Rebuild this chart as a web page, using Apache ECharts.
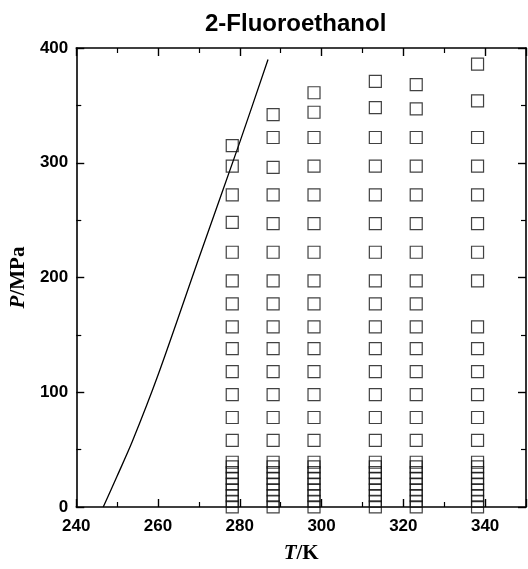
<!DOCTYPE html>
<html>
<head>
<meta charset="utf-8">
<script src="https://cdn.jsdelivr.net/npm/echarts@6/dist/echarts.min.js"></script>
<style>html,body{margin:0;padding:0;background:#fff;}#c{width:528px;height:569px;}</style>
</head>
<body>
<div id="c"></div>
<script>
// Temperatures (K) of the measured isotherms
var temps = [278.15, 288.15, 298.15, 313.15, 323.15, 338.15];
// Pressures (MPa) measured on each isotherm
var p278 = [0.1, 5, 10, 15, 20, 25, 30, 35, 39, 58, 78, 98, 118, 138, 157, 177, 197, 222, 248, 272, 297, 315];
var p288 = [0.1, 5, 10, 15, 20, 25, 30, 35, 39, 58, 78, 98, 118, 138, 157, 177, 197, 222, 247, 272, 296, 322, 342];
var p298 = [0.1, 5, 10, 15, 20, 25, 30, 35, 39, 58, 78, 98, 118, 138, 157, 177, 197, 222, 247, 272, 297, 322, 344, 361];
var p313 = [0.1, 5, 10, 15, 20, 25, 30, 35, 39, 58, 78, 98, 118, 138, 157, 177, 197, 222, 247, 272, 297, 322, 348, 371];
var p323 = [0.1, 5, 10, 15, 20, 25, 30, 35, 39, 58, 78, 98, 118, 138, 157, 177, 197, 222, 247, 272, 297, 322, 347, 368];
var p338 = [0.1, 5, 10, 15, 20, 25, 30, 35, 39, 58, 78, 98, 118, 138, 157, 197, 222, 247, 272, 297, 322, 354, 386];
var isotherms = [p278, p288, p298, p313, p323, p338];
// Melting (solid-liquid) curve
var meltT = [246.6, 250.0, 253.7, 260.0, 270.0, 280.0, 286.9];
var meltP = [0, 27, 57, 115, 217, 318, 390];
// Axis ticks
var xTicks = [240, 260, 280, 300, 320, 340];
var yTicks = [0, 100, 200, 300, 400];

var pts = [];
isotherms.forEach(function (arr, i) {
  arr.forEach(function (p) { pts.push([temps[i], p]); });
});
var melt = meltT.map(function (t, i) { return [t, meltP[i]]; });

var lblFont = {fontSize: 17, fontWeight: 'bold', fontFamily: '"Liberation Sans", Arial, sans-serif', color: '#000'};
var axLine = {show: true, onZero: false, lineStyle: {color: '#000', width: 1.6}};
var tick = {show: true, inside: true, length: 8, lineStyle: {color: '#000', width: 1.4}};
var minor = {show: true, splitNumber: 2, length: 5, lineStyle: {color: '#000', width: 1.2}};
var nameRich = {
  i: {fontSize: 21, fontStyle: 'italic', fontWeight: 'bold', fontFamily: '"Liberation Serif", "Times New Roman", serif', color: '#000'},
  n: {fontSize: 21, fontWeight: 'bold', fontFamily: '"Liberation Serif", "Times New Roman", serif', color: '#000'}
};

var chart = echarts.init(document.getElementById('c'), null, {renderer: 'canvas'});
chart.setOption({
  animation: false,
  backgroundColor: '#fff',
  title: {
    text: '2-Fluoroethanol', left: 200, top: 7,
    textStyle: {fontSize: 24, fontWeight: 'bold', fontFamily: '"Liberation Sans", Arial, sans-serif', color: '#000'}
  },
  grid: {left: 73, right: 2, top: 48, bottom: 56, containLabel: false},
  xAxis: [{
    type: 'value', position: 'bottom', min: 240, max: 350, interval: 20,
    axisLine: axLine, axisTick: tick, minorTick: minor, splitLine: {show: false},
    axisLabel: Object.assign({margin: 11, customValues: xTicks}, lblFont),
    name: '{i|T}{n|/K}', nameLocation: 'middle', nameGap: 36,
    nameTextStyle: {rich: nameRich}
  }, {
    type: 'value', position: 'top', min: 240, max: 350, interval: 20,
    axisLine: axLine, axisTick: tick, minorTick: minor, splitLine: {show: false},
    axisLabel: {show: false}
  }],
  yAxis: [{
    type: 'value', position: 'left', min: 0, max: 400, interval: 100,
    axisLine: axLine, axisTick: tick, minorTick: minor, splitLine: {show: false},
    axisLabel: Object.assign({margin: 8, customValues: yTicks}, lblFont),
    name: '{i|P}{n|/MPa}', nameLocation: 'middle', nameGap: 41,
    nameTextStyle: {rich: nameRich}
  }, {
    type: 'value', position: 'right', min: 0, max: 400, interval: 100,
    axisLine: axLine, axisTick: tick, minorTick: minor, splitLine: {show: false},
    axisLabel: {show: false}
  }],
  series: [{
    type: 'line', data: melt, smooth: 0.3, showSymbol: false, symbol: 'none',
    lineStyle: {color: '#000', width: 1.3}, z: 3
  }, {
    type: 'scatter', data: pts, symbol: 'rect', symbolSize: 12,
    itemStyle: {color: 'rgba(0,0,0,0)', borderColor: '#111', borderWidth: 1.2}, z: 4
  }]
});
</script>
</body>
</html>
